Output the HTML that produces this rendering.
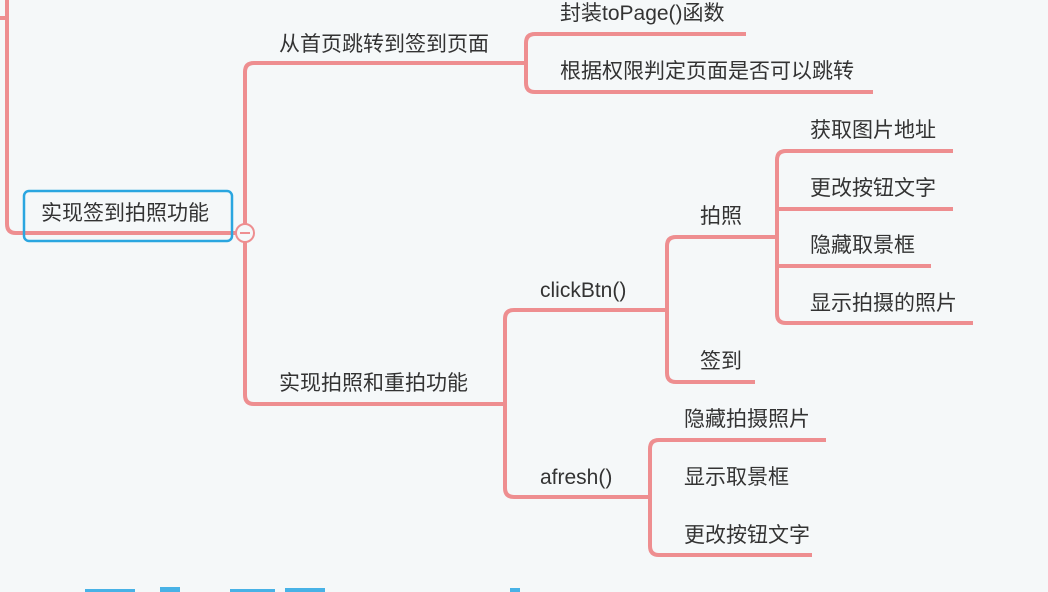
<!DOCTYPE html>
<html><head><meta charset="utf-8"><style>
html,body{margin:0;padding:0;background:#f5f8f9;}
svg{display:block}
text{font-family:"Liberation Sans","Noto Sans CJK SC",sans-serif;font-size:21px;fill:#333;}
</style></head><body>
<svg width="1048" height="592" viewBox="0 0 1048 592" xmlns="http://www.w3.org/2000/svg">
<rect width="1048" height="592" fill="#f5f8f9"/>
<g fill="none" stroke="#ee8e90" stroke-width="4" stroke-linecap="butt">
<path d="M0 18 H7"/>
<path d="M7 0 V224 Q7 233 16 233 H245"/>
<path d="M526 63 H254"/>
<path d="M254 63 Q245 63 245 72 V395 Q245 404 254 404 H505"/>
<path d="M746 34 H535 Q526 34 526 43 V83 Q526 92 535 92 H873"/>
<path d="M667 310 H514 Q505 310 505 319 V488 Q505 497 514 497 H650"/>
<path d="M775 237 H676 Q667 237 667 246 V373 Q667 382 676 382 H755"/>
<path d="M953 151 H786 Q777 151 777 160 V314 Q777 323 786 323 H973"/>
<path d="M777 209 H953"/>
<path d="M777 266 H931"/>
<path d="M826 440 H659 Q650 440 650 449 V546 Q650 555 659 555 H812"/>
</g>
<rect x="24" y="191" width="208" height="50" rx="5" fill="none" stroke="#2aa6e0" stroke-width="2.5"/>
<circle cx="245" cy="233" r="9" fill="#f5f8f9" stroke="#ee8e90" stroke-width="2"/>
<path d="M240 233 H250" stroke="#ee8e90" stroke-width="2"/>
<text x="41" y="220">实现签到拍照功能</text>
<text x="279" y="51">从首页跳转到签到页面</text>
<text x="279" y="390">实现拍照和重拍功能</text>
<text x="560" y="20">封装toPage()函数</text>
<text x="560" y="78">根据权限判定页面是否可以跳转</text>
<text x="540" y="297">clickBtn()</text>
<text x="540" y="484">afresh()</text>
<text x="700" y="223">拍照</text>
<text x="700" y="368">签到</text>
<text x="810" y="137">获取图片地址</text>
<text x="810" y="195">更改按钮文字</text>
<text x="810" y="252">隐藏取景框</text>
<text x="810" y="310">显示拍摄的照片</text>
<text x="684" y="426">隐藏拍摄照片</text>
<text x="684" y="484">显示取景框</text>
<text x="684" y="542">更改按钮文字</text>
<g fill="#48b2e6">
<rect x="85" y="589" width="50" height="3"/>
<rect x="160" y="587" width="20" height="5"/>
<rect x="230" y="589" width="45" height="3"/>
<rect x="285" y="588" width="40" height="4"/>
<rect x="510" y="588" width="10" height="4"/>
</g>
</svg>
</body></html>
